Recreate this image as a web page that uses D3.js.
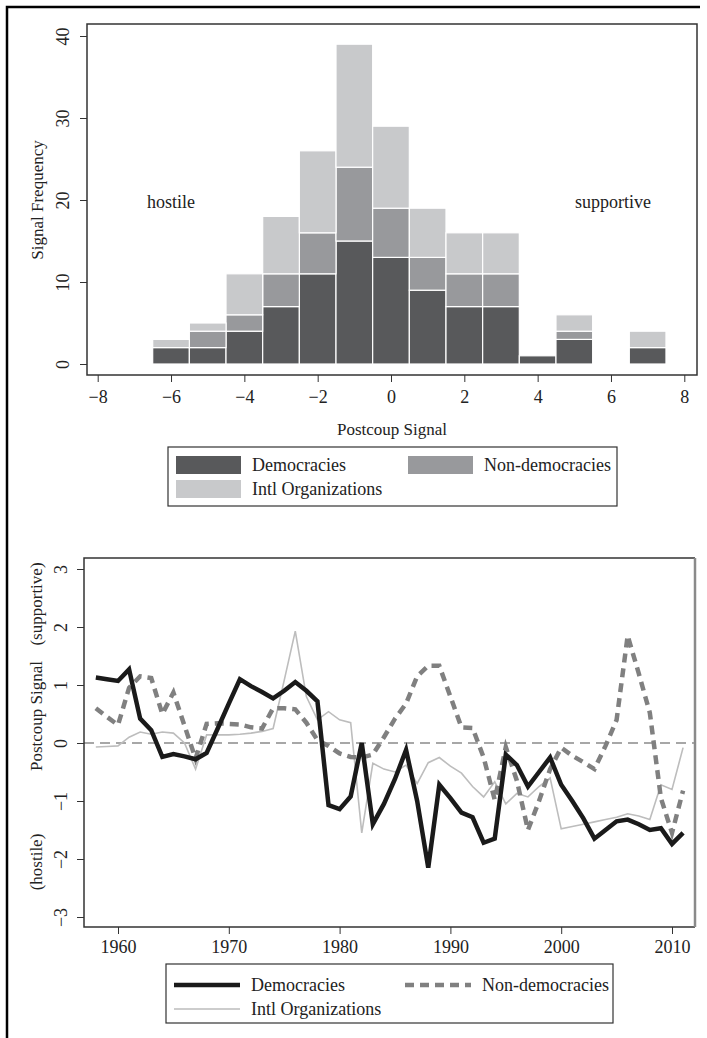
<!DOCTYPE html>
<html>
<head>
<meta charset="utf-8">
<script src="https://cdn.jsdelivr.net/npm/d3@7"></script>
<style>
  body { margin: 0; background: #fff; }
  svg { display: block; }
  text { font-family: "Liberation Serif", "Times New Roman", serif; fill: #222; }
</style>
</head>
<body>
<svg id="chart" width="707" height="1038"></svg>
<script>
// histogram data: stacked counts per signal bin
const bins = [-6, -5, -4, -3, -2, -1, 0, 1, 2, 3, 4, 5, 6, 7];
const democracies = [2, 2, 4, 7, 11, 15, 13, 9, 7, 7, 1, 3, 0, 2];
const nonDemocracies = [0, 2, 2, 4, 5, 9, 6, 4, 4, 4, 0, 1, 0, 0];
const intlOrgs = [1, 1, 5, 7, 10, 15, 10, 6, 5, 5, 0, 2, 0, 2];
const histXTicks = [-8, -6, -4, -2, 0, 2, 4, 6, 8];
const histYTicks = [0, 10, 20, 30, 40];

// yearly average signal
const years = d3.range(1958, 2012);
const demSignal = [1.13, 1.10, 1.07, 1.27, 0.42, 0.22, -0.24, -0.19, -0.23, -0.28,
  -0.17, 0.25, 0.68, 1.10, 0.98, 0.88, 0.77, 0.90, 1.05, 0.90,
  0.72, -1.07, -1.14, -0.92, 0.00, -1.40, -1.05, -0.62, -0.12, -1.00,
  -2.15, -0.72, -0.95, -1.20, -1.28, -1.72, -1.65, -0.20, -0.38, -0.75,
  -0.50, -0.25, -0.72, -1.00, -1.30, -1.65, -1.50, -1.35, -1.32, -1.40,
  -1.50, -1.47, -1.74, -1.55];
const nonDemSignal = [0.60, 0.45, 0.31, 0.95, 1.15, 1.12, 0.50, 0.87, 0.30, -0.27,
  0.33, 0.34, 0.33, 0.32, 0.27, 0.25, 0.60, 0.60, 0.58, 0.35,
  0.05, -0.05, -0.18, -0.24, -0.25, -0.20, 0.10, 0.42, 0.68, 1.15,
  1.33, 1.33, 0.80, 0.27, 0.26, -0.25, -0.98, -0.07, -0.65, -1.50,
  -1.00, -0.45, -0.08, -0.22, -0.33, -0.45, -0.05, 0.40, 1.85, 1.20,
  0.52, -0.95, -1.55, -0.82];
const ioSignal = [-0.07, -0.06, -0.05, 0.10, 0.19, 0.15, 0.19, 0.17, 0.00, -0.45,
  0.14, 0.14, 0.14, 0.15, 0.17, 0.20, 0.25, 1.08, 1.93, 0.80,
  0.40, 0.54, 0.40, 0.35, -1.55, -0.35, -0.45, -0.50, -0.38, -0.70,
  -0.34, -0.25, -0.40, -0.52, -0.75, -0.93, -0.67, -1.05, -0.87, -0.93,
  -0.75, -0.60, -1.48, -1.44, -1.40, -1.36, -1.32, -1.28, -1.22, -1.26,
  -1.32, -0.72, -0.80, -0.08];
const yearTicks = [1960, 1970, 1980, 1990, 2000, 2010];
const signalTicks = [-3, -2, -1, 0, 1, 2, 3];

const svg = d3.select('#chart');

// outer frame (left and top only)
svg.append('path')
  .attr('d', 'M7,1038 V7 H700')
  .attr('fill', 'none')
  .attr('stroke', '#000')
  .attr('stroke-width', 2.5);

// ---------- top panel: histogram ----------
const box1 = {left: 87, right: 697, top: 24, bottom: 375};
const x1 = d3.scaleLinear().domain([-8, 8]).range([97.7, 684.3]);
const y1 = d3.scaleLinear().domain([0, 40]).range([364, 36]);
const histColors = ['#58595b', '#98999c', '#c8c9cb'];

const histRows = bins.map((b, i) => ({bin: b, dem: democracies[i], non: nonDemocracies[i], io: intlOrgs[i]}));
const stack = d3.stack().keys(['dem', 'non', 'io'])(histRows);

const g1 = svg.append('g');
stack.forEach((layer, li) => {
  g1.selectAll(null)
    .data(layer.filter(d => d[1] > d[0]))
    .join('rect')
    .attr('x', d => x1(d.data.bin - 0.5))
    .attr('width', d => x1(d.data.bin + 0.5) - x1(d.data.bin - 0.5))
    .attr('y', d => y1(d[1]))
    .attr('height', d => y1(d[0]) - y1(d[1]))
    .attr('fill', histColors[li])
    .attr('stroke', '#fff')
    .attr('stroke-width', 1.2);
});

g1.append('rect')
  .attr('x', box1.left).attr('y', box1.top)
  .attr('width', box1.right - box1.left).attr('height', box1.bottom - box1.top)
  .attr('fill', 'none').attr('stroke', '#333').attr('stroke-width', 1.5);

const xAxis1 = svg.append('g')
  .attr('transform', `translate(0,${box1.bottom})`)
  .call(d3.axisBottom(x1).tickValues(histXTicks).tickSize(7).tickPadding(8).tickFormat(d3.format('d')));
xAxis1.select('.domain').remove();
xAxis1.selectAll('line').attr('stroke', '#333');
xAxis1.selectAll('text').style('font-family', '"Liberation Serif", serif').style('font-size', '18px').attr('fill', '#222');

const yAxis1 = svg.append('g')
  .attr('transform', `translate(${box1.left},0)`)
  .call(d3.axisLeft(y1).tickValues(histYTicks).tickSize(7).tickFormat(d3.format('d')));
yAxis1.select('.domain').remove();
yAxis1.selectAll('line').attr('stroke', '#333');
yAxis1.selectAll('text')
  .attr('x', null).attr('dy', null)
  .attr('transform', 'translate(-18,0) rotate(-90)')
  .attr('text-anchor', 'middle')
  .style('font-family', '"Liberation Serif", serif').style('font-size', '18px').attr('fill', '#222');

svg.append('text')
  .attr('transform', 'translate(43,200) rotate(-90)')
  .attr('text-anchor', 'middle')
  .style('font-size', '17px')
  .text('Signal Frequency');

svg.append('text')
  .attr('x', (box1.left + box1.right) / 2).attr('y', 435)
  .attr('text-anchor', 'middle').style('font-size', '17px')
  .text('Postcoup Signal');

svg.append('text').attr('x', 147).attr('y', 208).style('font-size', '18px').text('hostile');
svg.append('text').attr('x', 575).attr('y', 208).style('font-size', '18px').text('supportive');

// legend (top)
const leg1 = svg.append('g');
leg1.append('rect').attr('x', 168).attr('y', 447).attr('width', 449).attr('height', 59)
  .attr('fill', '#fff').attr('stroke', '#333').attr('stroke-width', 1.2);
const leg1Items = [
  {label: 'Democracies', color: histColors[0], x: 176, y: 465},
  {label: 'Non-democracies', color: histColors[1], x: 408, y: 465},
  {label: 'Intl Organizations', color: histColors[2], x: 176, y: 489}
];
leg1Items.forEach(d => {
  leg1.append('rect').attr('x', d.x).attr('y', d.y - 9).attr('width', 65).attr('height', 18).attr('fill', d.color);
  leg1.append('text').attr('x', d.x + 76).attr('y', d.y + 6).style('font-size', '18px').text(d.label);
});

// ---------- bottom panel: yearly lines ----------
const box2 = {left: 84, right: 695, top: 558, bottom: 927};
const x2 = d3.scaleLinear().domain([1960, 2010]).range([118, 672]);
const y2 = d3.scaleLinear().domain([-3, 3]).range([917, 569]);

const g2 = svg.append('g');
g2.append('line')
  .attr('x1', box2.left).attr('x2', box2.right)
  .attr('y1', y2(0)).attr('y2', y2(0))
  .attr('stroke', '#8a8a8a').attr('stroke-width', 1.5).attr('stroke-dasharray', '10,6');

const line2 = d3.line().x((d, i) => x2(years[i])).y(d => y2(d));

g2.append('path').datum(ioSignal).attr('d', line2)
  .attr('fill', 'none').attr('stroke', '#bdbdbd').attr('stroke-width', 1.6);
g2.append('path').datum(nonDemSignal).attr('d', line2)
  .attr('fill', 'none').attr('stroke', '#808080').attr('stroke-width', 4.5)
  .attr('stroke-dasharray', '9,6');
g2.append('path').datum(demSignal).attr('d', line2)
  .attr('fill', 'none').attr('stroke', '#1a1a1a').attr('stroke-width', 4.5)
  .attr('stroke-linejoin', 'miter');

g2.append('path')
  .attr('d', `M${box2.right},${box2.bottom} H${box2.left} V${box2.top} H${box2.right}`)
  .attr('fill', 'none').attr('stroke', '#333').attr('stroke-width', 1.5);
g2.append('line')
  .attr('x1', box2.right).attr('x2', box2.right).attr('y1', box2.top).attr('y2', box2.bottom)
  .attr('stroke', '#8a8a8a').attr('stroke-width', 2.5);

const xAxis2 = svg.append('g')
  .attr('transform', `translate(0,${box2.bottom})`)
  .call(d3.axisBottom(x2).tickValues(yearTicks).tickSize(7).tickPadding(6).tickFormat(d3.format('d')));
xAxis2.select('.domain').remove();
xAxis2.selectAll('line').attr('stroke', '#333');
xAxis2.selectAll('text').style('font-family', '"Liberation Serif", serif').style('font-size', '18px').attr('fill', '#222');

const yAxis2 = svg.append('g')
  .attr('transform', `translate(${box2.left},0)`)
  .call(d3.axisLeft(y2).tickValues(signalTicks).tickSize(7).tickFormat(d3.format('d')));
yAxis2.select('.domain').remove();
yAxis2.selectAll('line').attr('stroke', '#333');
yAxis2.selectAll('text')
  .attr('x', null).attr('dy', null)
  .attr('transform', 'translate(-17,0) rotate(-90)')
  .attr('text-anchor', 'middle')
  .style('font-family', '"Liberation Serif", serif').style('font-size', '18px').attr('fill', '#222');

[['(supportive)', 604], ['Postcoup Signal', 716], ['(hostile)', 862]].forEach(([t, cy]) => {
  svg.append('text')
    .attr('transform', `translate(42,${cy}) rotate(-90)`)
    .attr('text-anchor', 'middle').style('font-size', '17px')
    .text(t);
});

// legend (bottom)
const leg2 = svg.append('g');
leg2.append('rect').attr('x', 166).attr('y', 964).attr('width', 447).attr('height', 59)
  .attr('fill', '#fff').attr('stroke', '#333').attr('stroke-width', 1.2);
const leg2Items = [
  {label: 'Democracies', color: '#1a1a1a', w: 4.5, dash: null, x: 174, y: 985},
  {label: 'Non-democracies', color: '#808080', w: 4.5, dash: '9,6', x: 405, y: 985},
  {label: 'Intl Organizations', color: '#bdbdbd', w: 1.6, dash: null, x: 174, y: 1009}
];
leg2Items.forEach(d => {
  leg2.append('line').attr('x1', d.x).attr('x2', d.x + 66).attr('y1', d.y).attr('y2', d.y)
    .attr('stroke', d.color).attr('stroke-width', d.w).attr('stroke-dasharray', d.dash);
  leg2.append('text').attr('x', d.x + 77).attr('y', d.y + 6).style('font-size', '18px').text(d.label);
});
</script>
</body>
</html>
